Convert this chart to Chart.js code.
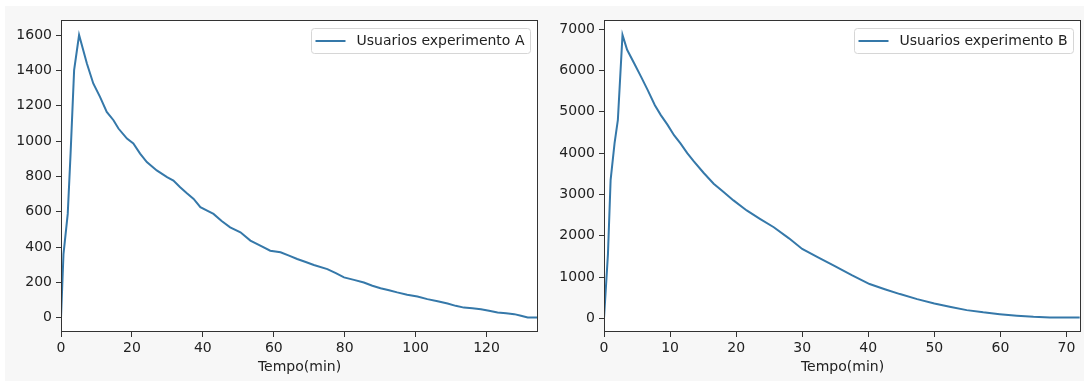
<!DOCTYPE html>
<html>
<head>
<meta charset="utf-8">
<script src="https://cdn.jsdelivr.net/npm/chart.js@4.4.0/dist/chart.umd.min.js"></script>
<style>
  html, body { margin: 0; padding: 0; background: #fff; overflow: hidden; }
  #bg { position: absolute; left: 5px; top: 6px; width: 1079px; height: 375px; background: #f7f7f7; }
  .box { position: absolute; top: 0; width: 542px; height: 381px; }
  #boxA { left: 0; }
  #boxB { left: 542px; }
</style>
</head>
<body>
<div id="bg"></div>
<div class="box" id="boxA"><canvas id="chartA" width="542" height="381"></canvas></div>
<div class="box" id="boxB"><canvas id="chartB" width="542" height="381"></canvas></div>
<script>
// experiment A: minutes / users
const timeA = [0, 0.7, 1.9, 2.7, 3.7, 5.1, 7.3, 9.1, 11.0, 12.9, 14.8, 16.2, 18.6, 20.4, 22.3, 24.2,
  27.0, 29.9, 31.7, 33.6, 35.5, 37.4, 39.3, 41.2, 43.0, 45.3, 47.7, 50.6, 53.4, 56.2, 59.0, 61.9,
  64.3, 66.6, 69.0, 71.3, 75.1, 77.5, 79.8, 82.6, 85.4, 87.8, 90.1, 92.5, 94.8, 97.6, 100.5, 103.3,
  106.2, 109.0, 111.3, 113.6, 116.0, 118.4, 120.7, 123.1, 125.5, 127.8, 129.7, 131.6, 134.5]
const usersA = [0, 361, 588, 929, 1401, 1600, 1439, 1326, 1250, 1165, 1118, 1071, 1014, 986, 929, 881,
  834, 796, 777, 739, 705, 673, 626, 606, 588, 548, 512, 484, 437, 408, 380, 371,
  352, 333, 316, 299, 276, 253, 229, 215, 200, 182, 168, 156, 144, 131, 121, 106,
  94, 81, 68, 58, 55, 49, 40, 30, 26, 21, 12, 2, 2]

// experiment B: minutes / users
const timeB = [0, 0.6, 1.0, 1.6, 2.1, 2.8, 3.5, 4.6, 5.6, 6.6, 7.7, 8.6, 9.6, 10.6, 11.6, 12.6, 13.6,
  15.1, 16.6, 18.1, 19.6, 21.6, 23.6, 25.7, 28.0, 30.0, 32.4, 34.8, 37.5, 40.2, 42.5, 44.8, 47.4,
  50.0, 52.5, 54.9, 57.4, 59.9, 62.5, 65.0, 67.5, 70.0, 72.0]
const usersB = [0, 1565, 3347, 4240, 4805, 6860, 6500, 6160, 5850, 5530, 5160, 4920, 4690, 4434, 4230, 4000, 3800,
  3520, 3262, 3059, 2857, 2614, 2412, 2209, 1940, 1684, 1480, 1279, 1050, 835, 710, 592, 470,
  364, 280, 204, 150, 107, 70, 41, 28, 24, 24]

const xTicksA = [0, 20, 40, 60, 80, 100, 120]
const yTicksA = [0, 200, 400, 600, 800, 1000, 1200, 1400, 1600]
const xTicksB = [0, 10, 20, 30, 40, 50, 60, 70]
const yTicksB = [0, 1000, 2000, 3000, 4000, 5000, 6000, 7000]

Chart.defaults.font.family = '"DejaVu Sans", sans-serif'
Chart.defaults.font.size = 14
Chart.defaults.color = '#222'

const LINE = '#3578a9'

// white plot area, full frame and an inside legend, like matplotlib
const framePlugin = {
  id: 'frame',
  beforeDraw(chart) {
    const { ctx, chartArea: a } = chart
    ctx.save()
    ctx.fillStyle = '#fff'
    ctx.fillRect(a.left, a.top, a.right - a.left, a.bottom - a.top)
    ctx.restore()
  },
  afterDraw(chart) {
    const { ctx, chartArea: a } = chart
    ctx.save()
    ctx.strokeStyle = '#333'
    ctx.lineWidth = 1
    ctx.strokeRect(Math.round(a.left) + 0.5, Math.round(a.top) + 0.5,
      Math.round(a.right - a.left) - 1, Math.round(a.bottom - a.top) - 1)

    const label = chart.data.datasets[0].label
    ctx.font = '14px "DejaVu Sans"'
    const w = ctx.measureText(label).width
    const bw = Math.round(w + 51), bh = 25
    const bx = Math.round(a.right - 8 - bw) + 0.5, by = Math.round(a.top + 8) + 0.5
    ctx.beginPath()
    ctx.roundRect(bx, by, bw, bh, 3)
    ctx.fillStyle = 'rgba(255,255,255,0.8)'
    ctx.fill()
    ctx.strokeStyle = '#d6d6d6'
    ctx.stroke()
    ctx.beginPath()
    ctx.moveTo(bx + 4, by + 12.5)
    ctx.lineTo(bx + 34, by + 12.5)
    ctx.strokeStyle = LINE
    ctx.lineWidth = 2
    ctx.stroke()
    ctx.fillStyle = '#222'
    ctx.textBaseline = 'middle'
    ctx.fillText(label, bx + 45, by + 13)
    ctx.restore()
  }
}

function makeChart(id, label, times, users, xTicks, yTicks, xMax, yMin, yMax, yWidth, padRight) {
  const data = times.map((t, i) => ({ x: t, y: users[i] }))
  return new Chart(document.getElementById(id), {
    type: 'line',
    data: {
      datasets: [{
        label,
        data,
        borderColor: LINE,
        borderWidth: 2,
        pointRadius: 0,
        tension: 0
      }]
    },
    options: {
      responsive: false,
      devicePixelRatio: 1,
      animation: false,
      layout: { padding: { left: 0, top: 20, right: padRight, bottom: 0 } },
      scales: {
        x: {
          type: 'linear',
          min: 0,
          max: xMax,
          border: { display: false },
          grid: { drawOnChartArea: false, tickLength: 5, tickColor: '#333' },
          ticks: { padding: 3, callback: v => String(v) },
          afterBuildTicks: scale => { scale.ticks = xTicks.map(value => ({ value })) },
          afterFit: scale => { scale.height = 49 },
          title: { display: true, text: 'Tempo(min)', padding: { top: 0, bottom: 5 } }
        },
        y: {
          min: yMin,
          max: yMax,
          border: { display: false },
          grid: { drawOnChartArea: false, tickLength: 5, tickColor: '#333' },
          ticks: { padding: 4, callback: v => String(v) },
          afterBuildTicks: scale => { scale.ticks = yTicks.map(value => ({ value })) },
          afterFit: scale => { scale.width = yWidth }
        }
      },
      plugins: {
        legend: { display: false },
        tooltip: { enabled: false }
      }
    },
    plugins: [framePlugin]
  })
}

makeChart('chartA', 'Usuarios experimento A', timeA, usersA, xTicksA, yTicksA, 134.5, -80, 1685, 61, 4)
makeChart('chartB', 'Usuarios experimento B', timeB, usersB, xTicksB, yTicksB, 72.2, -325, 7220, 62, 3)
</script>
</body>
</html>
